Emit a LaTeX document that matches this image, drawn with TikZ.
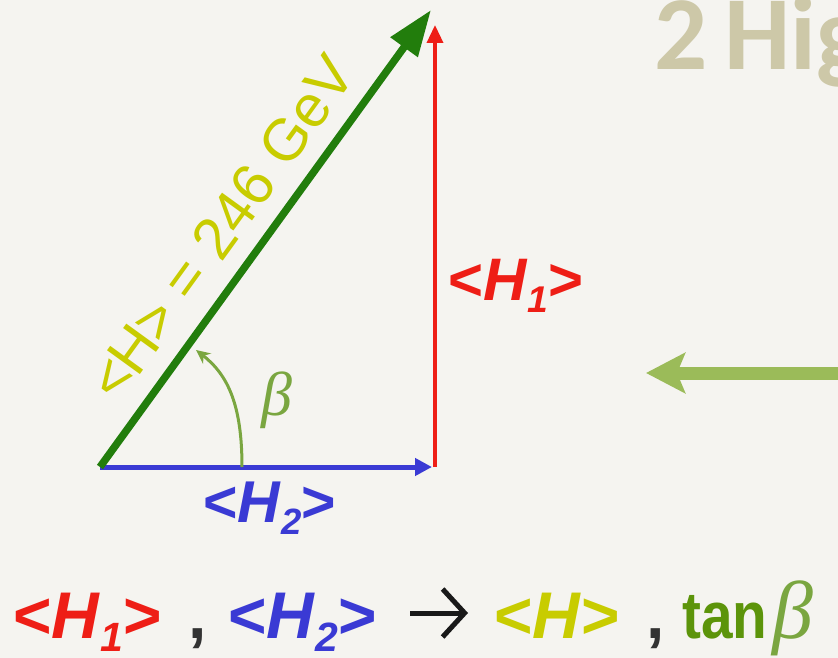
\documentclass[tikz,border=0pt]{standalone}
\usepackage{fontspec}
\setmainfont{Liberation Sans}
\newfontfamily\titlefont{Carlito}
\newfontfamily\greekfont{Liberation Serif}
\usetikzlibrary{arrows.meta,positioning}
\definecolor{paper}{RGB}{245,244,240}
\newcommand{\vevsub}[1]{<\textit{H}\raisebox{-0.21em}{\scalebox{0.62}{\textit{#1}}}>}

\begin{document}
\begin{tikzpicture}[x=1pt,y=-1pt,>=Latex]
\definecolor{cR}{RGB}{238,30,22}\definecolor{cB}{RGB}{58,58,212}\definecolor{cY}{RGB}{200,204,0}
\definecolor{cG}{RGB}{34,125,12}\definecolor{cArc}{RGB}{122,166,64}\definecolor{cTan}{RGB}{92,148,10}
\definecolor{cTitle}{RGB}{205,200,168}\definecolor{cBig}{RGB}{155,187,89}
\fill[paper] (0,0) rectangle (838,658);
\useasboundingbox (0,0) rectangle (838,658);
\clip (0,0) rectangle (838,658);
% title, cut at the edge
\node[anchor=base west,inner sep=0pt,text=cTitle,font=\titlefont\bfseries\fontsize{105}{110}\selectfont] (title) at (654,70) {2\kern0.16em Hig};
% triangle of the vevs
\coordinate (O) at (100,467);
\coordinate (A) at (432,467);
\coordinate (R) at (435,467);
\coordinate (Rt) at (435,25);
\coordinate (T) at (431,10);
\draw[cB,line width=5pt,-{Triangle[length=17pt,width=17pt]}] (O)--(A);
\draw[cR,line width=3.5pt,-{Triangle[length=18pt,width=16pt]}] (R)--(Rt);
\draw[cG,line width=7.5pt,-{Triangle[length=46pt,width=32pt]}] (O)--(T)
  node[pos=0.47,sloped,above=17pt,inner sep=0pt,text=cY,font=\fontsize{59}{61}\selectfont] (vev) {<\kern-0.04em H\kern-0.04em> = 246 GeV};
% angle beta
\coordinate (Bs) at (242,467);
\coordinate (Bt) at (196,350);
\draw[cArc,line width=3pt,-{Stealth[length=14pt,width=13pt]}] (Bs) .. controls (242,405) and (228,375) .. (Bt);
\node[text=cArc,font=\greekfont\itshape\fontsize{62}{64}\selectfont] (beta) at (277,400) {β};
\node[anchor=base west,inner sep=0pt,text=cR,font=\bfseries\fontsize{60}{62}\selectfont] (h1) at (448,300) {\vevsub{1}};
\node[anchor=base west,inner sep=0pt,text=cB,font=\bfseries\fontsize{59}{61}\selectfont] (h2) at (203,522) {\vevsub{2}};
% big arrow
\coordinate (Ae) at (850,373);
\coordinate (Aw) at (646,373);
\draw[cBig,line width=13pt,-{Stealth[length=39pt,width=40pt,inset=8pt]}] (Ae)--(Aw);
% bottom line
\begin{scope}[every node/.style={anchor=base west,inner sep=0pt,font=\bfseries\fontsize{66}{70}\selectfont}]
\node[text=cR] (b1) at (13,638) {\vevsub{1}};
\node[text=black!80] (b2) at (188,638) {,};
\node[text=cB] (b3) at (228,638) {\vevsub{2}};
\node[text=cY] (b5) at (494,638) {<\textit{H}>};
\node[text=black!80] (b6) at (646,638) {,};
\node[text=cTan] (b7) at (682,638) {\scalebox{0.86}[1]{tan}};
\node[text=cArc,font=\greekfont\itshape\fontsize{82}{84}\selectfont] (b8) at (772,638) {β};
\end{scope}
\coordinate (ta) at (410,613);
\coordinate (tb) at (468,613);
\draw[black!90,line width=5pt,-{Straight Barb[length=22pt,width=48pt]}] (ta)--(tb);
\end{tikzpicture}
\end{document}
